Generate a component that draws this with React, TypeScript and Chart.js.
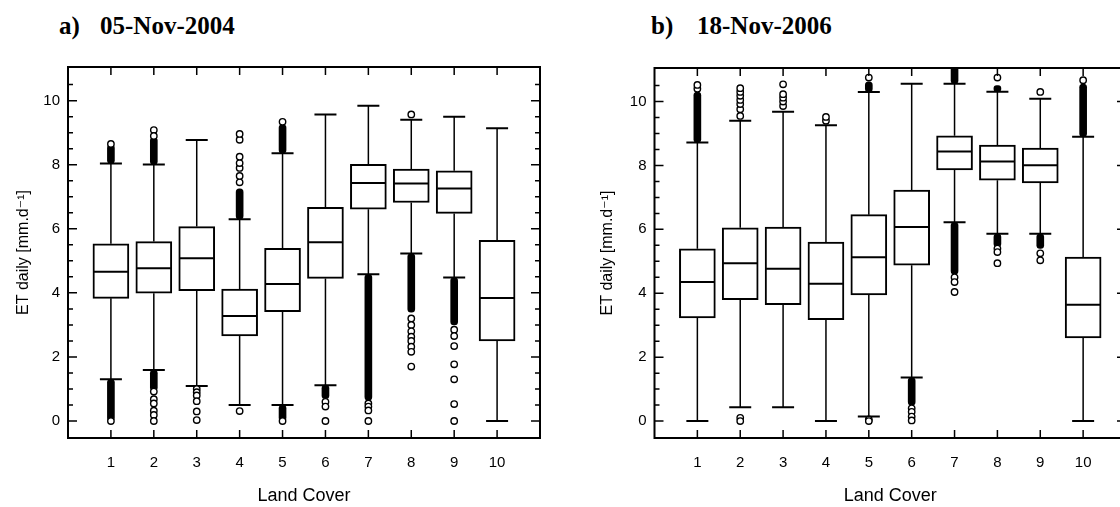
import React, { useEffect, useRef } from "react";
import { Chart, registerables } from "chart.js";

Chart.register(...registerables);

// ---------- shared axis data ----------
const CATEGORIES = [1, 2, 3, 4, 5, 6, 7, 8, 9, 10];
const Y_LABEL_TICKS = [0, 2, 4, 6, 8, 10];
const Y_MINOR_TICKS = [0, 0.5, 1, 1.5, 2, 2.5, 3, 3.5, 4, 4.5, 5, 5.5, 6, 6.5, 7, 7.5, 8, 8.5, 9, 9.5, 10, 10.5];
const X_TITLE = "Land Cover";
const Y_TITLE = "ET daily [mm.d\u207B\u00B9]";

// ---------- panel a) 05-Nov-2004 ----------
const A_TITLE = "05-Nov-2004";
const A_WHISKER_LOW = [1.30, 1.59, 1.09, 0.50, 0.50, 1.12, 4.58, 5.23, 4.48, 0.00];
const A_Q1 = [3.83, 3.99, 4.07, 2.66, 3.41, 4.45, 6.61, 6.82, 6.48, 2.50];
const A_MEDIAN = [4.66, 4.77, 5.08, 3.28, 4.28, 5.58, 7.43, 7.41, 7.26, 3.84];
const A_Q3 = [5.53, 5.60, 6.07, 4.12, 5.39, 6.67, 8.01, 7.86, 7.81, 5.64];
const A_WHISKER_HIGH = [8.04, 8.01, 8.77, 6.30, 8.36, 9.57, 9.84, 9.40, 9.50, 9.14];
// dense outlier runs: [category, from, to]
const A_DENSE: number[][] = [
  [1, 0.0, 1.30], [1, 8.04, 8.62],
  [2, 0.95, 1.59], [2, 8.01, 8.85],
  [4, 6.30, 7.25],
  [5, 0.0, 0.50], [5, 8.36, 9.25],
  [6, 0.7, 1.12],
  [7, 0.65, 4.58],
  [8, 3.4, 5.23],
  [9, 3.0, 4.48],
];
// single outliers: [category, value]
const A_OUTLIERS: number[][] = [
  [1, 8.65], [1, 0.0],
  [2, 9.08], [2, 8.9], [2, 0.92], [2, 0.68], [2, 0.55], [2, 0.32], [2, 0.19], [2, 0.0],
  [3, 1.0], [3, 0.9], [3, 0.8], [3, 0.62], [3, 0.3], [3, 0.03],
  [4, 7.45], [4, 7.65], [4, 7.9], [4, 8.05], [4, 8.25], [4, 8.78], [4, 8.96], [4, 0.31],
  [5, 9.34], [5, 0.0],
  [6, 0.6], [6, 0.45], [6, 0.0],
  [7, 0.55], [7, 0.45], [7, 0.33], [7, 0.0],
  [8, 9.57], [8, 3.2], [8, 3.0], [8, 2.8], [8, 2.63], [8, 2.5], [8, 2.32], [8, 2.16], [8, 1.70],
  [9, 2.85], [9, 2.65], [9, 2.34], [9, 1.77], [9, 1.30], [9, 0.53], [9, 0.0],
];

// ---------- panel b) 18-Nov-2006 ----------
const B_TITLE = "18-Nov-2006";
const B_WHISKER_LOW = [0.0, 0.43, 0.43, 0.0, 0.14, 1.36, 6.22, 5.86, 5.86, 0.0];
const B_Q1 = [3.23, 3.80, 3.64, 3.17, 3.95, 4.88, 7.86, 7.54, 7.45, 2.60];
const B_MEDIAN = [4.35, 4.94, 4.77, 4.30, 5.13, 6.07, 8.44, 8.12, 8.01, 3.64];
const B_Q3 = [5.39, 6.05, 6.07, 5.60, 6.46, 7.23, 8.93, 8.64, 8.54, 5.13];
const B_WHISKER_HIGH = [8.72, 9.40, 9.68, 9.26, 10.30, 10.56, 10.56, 10.31, 10.09, 8.90];
const B_DENSE: number[][] = [
  [1, 8.72, 10.3],
  [5, 10.3, 10.62],
  [6, 0.5, 1.36],
  [7, 10.56, 11.1], [7, 4.6, 6.22],
  [8, 10.31, 10.5], [8, 5.45, 5.86],
  [9, 5.4, 5.86],
  [10, 8.9, 10.55],
];
const B_OUTLIERS: number[][] = [
  [1, 10.4], [1, 10.52],
  [2, 9.55], [2, 9.76], [2, 9.92], [2, 10.05], [2, 10.18], [2, 10.3], [2, 10.42], [2, 0.1], [2, 0.0],
  [3, 9.86], [3, 10.0], [3, 10.12], [3, 10.23], [3, 10.54],
  [4, 9.40], [4, 9.52],
  [5, 10.75], [5, 0.05], [5, 0.0],
  [6, 0.4], [6, 0.29], [6, 0.14], [6, 0.02],
  [7, 4.5], [7, 4.35], [7, 4.04],
  [8, 10.75], [8, 5.4], [8, 5.29], [8, 4.94],
  [9, 10.30], [9, 5.25], [9, 5.03],
  [10, 10.67],
];

const SANS = '"Liberation Sans", Arial, "DejaVu Sans", sans-serif';
const SERIF = '"Liberation Serif", "Times New Roman", serif';

type PanelProps = {
  width: number;
  height: number;
  yAxisWidth: number;
  padTop: number;
  padRight: number;
  yTitlePad: number;
  lo: number[];
  q1: number[];
  med: number[];
  q3: number[];
  hi: number[];
  dense: number[][];
  outliers: number[][];
};

function BoxPanel(p: PanelProps) {
  const ref = useRef<HTMLCanvasElement | null>(null);

  useEffect(() => {
    if (!ref.current) return;

    const boxPlugin = {
      id: "boxFrame",
      beforeDatasetsDraw(chart: any) {
        const { ctx } = chart;
        const xs = chart.scales.x;
        const ys = chart.scales.y;
        ctx.save();
        ctx.strokeStyle = "#000";
        CATEGORIES.forEach((c, i) => {
          const x = xs.getPixelForValue(c);
          const yl = ys.getPixelForValue(p.lo[i]);
          const y1 = ys.getPixelForValue(p.q1[i]);
          const y3 = ys.getPixelForValue(p.q3[i]);
          const yh = ys.getPixelForValue(p.hi[i]);
          ctx.lineWidth = 1.5;
          ctx.beginPath();
          ctx.moveTo(x, yl);
          ctx.lineTo(x, y1);
          ctx.moveTo(x, y3);
          ctx.lineTo(x, yh);
          ctx.stroke();
          ctx.lineWidth = 2;
          ctx.beginPath();
          ctx.moveTo(x - 11, yl);
          ctx.lineTo(x + 11, yl);
          ctx.moveTo(x - 11, yh);
          ctx.lineTo(x + 11, yh);
          ctx.stroke();
        });
        ctx.restore();
      },
      afterDatasetsDraw(chart: any) {
        const { ctx, chartArea } = chart;
        const xs = chart.scales.x;
        const ys = chart.scales.y;
        ctx.save();
        ctx.strokeStyle = "#000";
        // medians
        ctx.lineWidth = 2;
        CATEGORIES.forEach((c, i) => {
          const x = xs.getPixelForValue(c);
          const ym = ys.getPixelForValue(p.med[i]);
          ctx.beginPath();
          ctx.moveTo(x - 17, ym);
          ctx.lineTo(x + 17, ym);
          ctx.stroke();
        });
        // frame
        const { left, right, top, bottom } = chartArea;
        ctx.lineWidth = 2;
        ctx.strokeRect(left, top, right - left, bottom - top);
        // x ticks (inward, top and bottom)
        ctx.lineWidth = 1.5;
        ctx.beginPath();
        CATEGORIES.forEach((c) => {
          const x = xs.getPixelForValue(c);
          ctx.moveTo(x, bottom);
          ctx.lineTo(x, bottom - 8);
          ctx.moveTo(x, top);
          ctx.lineTo(x, top + 8);
        });
        // y ticks (inward, left and right)
        Y_MINOR_TICKS.forEach((v) => {
          const y = ys.getPixelForValue(v);
          const len = Y_LABEL_TICKS.includes(v) ? 9 : 5;
          ctx.moveTo(left, y);
          ctx.lineTo(left + len, y);
          ctx.moveTo(right, y);
          ctx.lineTo(right - len, y);
        });
        ctx.stroke();
        ctx.restore();
      },
    };

    const chart = new Chart(ref.current, {
      type: "bar",
      data: {
        datasets: [
          {
            type: "scatter",
            label: "outliers",
            data: p.outliers.map(([c, v]) => ({ x: c, y: v })),
            pointRadius: 3.2,
            pointStyle: "circle",
            backgroundColor: "#fff",
            borderColor: "#000",
            borderWidth: 1.4,
            order: 0,
          } as any,
          {
            type: "bar",
            label: "dense outliers",
            data: p.dense.map(([c, a, b]) => ({ x: c, y: [a, b] })),
            backgroundColor: "#000",
            borderWidth: 0,
            barThickness: 7,
            borderRadius: 3.5,
            borderSkipped: false,
            grouped: false,
            order: 1,
          } as any,
          {
            type: "bar",
            label: "box",
            data: CATEGORIES.map((c, i) => ({ x: c, y: [p.q1[i], p.q3[i]] })),
            backgroundColor: "#fff",
            borderColor: "#000",
            borderWidth: 2,
            barThickness: 36,
            borderSkipped: false,
            grouped: false,
            order: 2,
          } as any,
        ],
      },
      options: {
        responsive: false,
        maintainAspectRatio: false,
        animation: false,
        events: [],
        layout: { padding: { left: 0, top: p.padTop, right: p.padRight, bottom: 0 } },
        plugins: {
          legend: { display: false },
          tooltip: { enabled: false },
          title: { display: false },
        },
        scales: {
          x: {
            type: "linear",
            min: 0,
            max: 11,
            offset: false,
            grid: { display: false, drawTicks: false },
            border: { display: false },
            afterBuildTicks: (s: any) => {
              s.ticks = CATEGORIES.map((v) => ({ value: v }));
            },
            afterFit: (s: any) => {
              s.height = 69;
            },
            ticks: {
              autoSkip: false,
              maxRotation: 0,
              padding: 16,
              color: "#000",
              font: { family: SANS, size: 15 },
              callback: (v: any) => String(v),
            },
            title: {
              display: true,
              text: X_TITLE,
              color: "#000",
              font: { family: SANS, size: 18 },
              padding: { top: 0, bottom: 0 },
            },
          },
          y: {
            type: "linear",
            min: -0.53,
            max: 11.05,
            grid: { display: false, drawTicks: false },
            border: { display: false },
            afterBuildTicks: (s: any) => {
              s.ticks = Y_LABEL_TICKS.map((v) => ({ value: v }));
            },
            afterFit: (s: any) => {
              s.width = p.yAxisWidth;
            },
            ticks: {
              padding: 8,
              color: "#000",
              font: { family: SANS, size: 15 },
              callback: (v: any) => String(v),
            },
            title: {
              display: true,
              text: Y_TITLE,
              color: "#000",
              font: { family: SANS, size: 16 },
              padding: { top: p.yTitlePad, bottom: 0 },
            },
          },
        },
      } as any,
      plugins: [boxPlugin],
    });

    return () => chart.destroy();
  }, []);

  return <canvas ref={ref} width={p.width} height={p.height} style={{ width: p.width, height: p.height, display: "block" }} />;
}

const titleStyle: React.CSSProperties = {
  position: "absolute",
  top: 13,
  font: `bold 25px ${SERIF}`,
  lineHeight: "25px",
  whiteSpace: "pre",
  color: "#000",
};

export default function App() {
  return (
    <div
      style={{
        position: "fixed",
        left: 0,
        top: 0,
        width: 1120,
        height: 507,
        overflow: "hidden",
        background: "#fff",
      }}
    >
      <div style={{ ...titleStyle, left: 59 }}>a)</div>
      <div style={{ ...titleStyle, left: 100 }}>{A_TITLE}</div>
      <div style={{ ...titleStyle, left: 651 }}>b)</div>
      <div style={{ ...titleStyle, left: 697 }}>{B_TITLE}</div>

      <div style={{ position: "absolute", left: 0, top: 0 }}>
        <BoxPanel
          width={560}
          height={507}
          yAxisWidth={68}
          padTop={67}
          padRight={20}
          yTitlePad={14}
          lo={A_WHISKER_LOW}
          q1={A_Q1}
          med={A_MEDIAN}
          q3={A_Q3}
          hi={A_WHISKER_HIGH}
          dense={A_DENSE}
          outliers={A_OUTLIERS}
        />
      </div>
      <div style={{ position: "absolute", left: 560, top: 0 }}>
        <BoxPanel
          width={580}
          height={507}
          yAxisWidth={94.5}
          padTop={68}
          padRight={14}
          yTitlePad={38}
          lo={B_WHISKER_LOW}
          q1={B_Q1}
          med={B_MEDIAN}
          q3={B_Q3}
          hi={B_WHISKER_HIGH}
          dense={B_DENSE}
          outliers={B_OUTLIERS}
        />
      </div>
    </div>
  );
}
